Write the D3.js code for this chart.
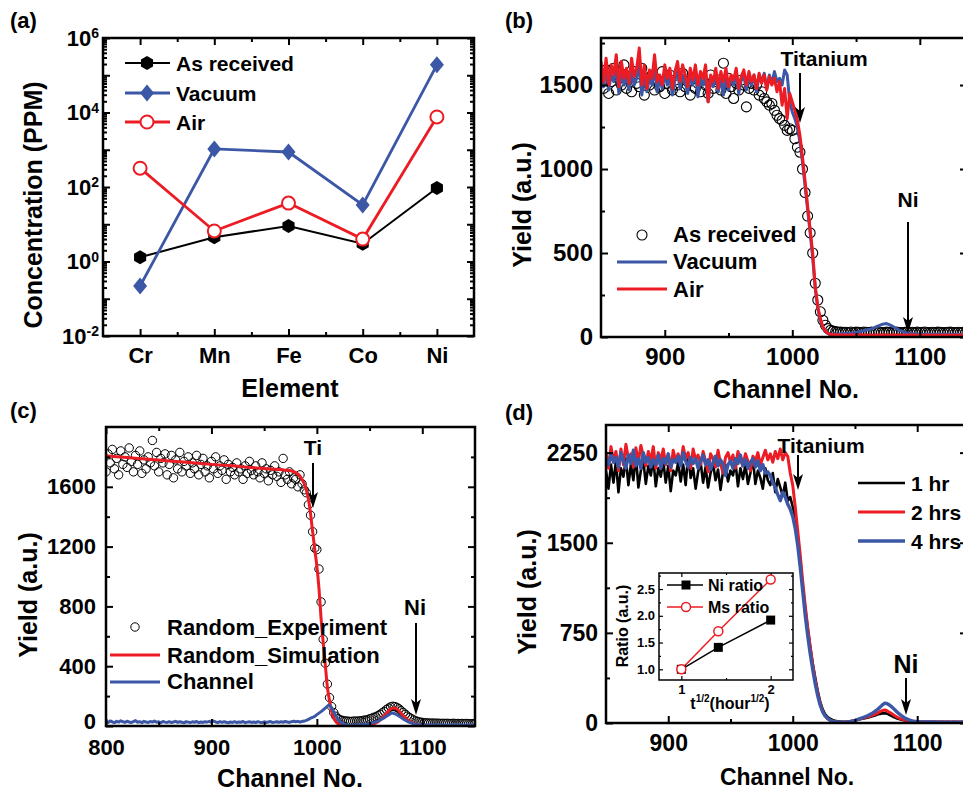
<!DOCTYPE html>
<html><head><meta charset="utf-8">
<script src="https://cdn.jsdelivr.net/npm/d3@7"></script>
<style>
body{margin:0;background:#fff;}
svg text{font-family:"Liberation Sans",Arial,Helvetica,sans-serif;font-weight:bold;fill:#000;}
</style></head><body>
<svg id="fig" width="963" height="792"></svg>
<script>
const FONT='"Liberation Sans",Arial,Helvetica,sans-serif';
const RED="#ec1c24", BLUE="#3b57a6", BLACK="#000";

// ---------- Panel (a) ----------
const elements=["Cr","Mn","Fe","Co","Ni"];
const aReceived=[1.3,4.5,9,3,94];
const aVacuum=[0.22,1050,870,33,190000];
const aAir=[320,6.6,37,4,7600];
const aYTickExp=[-2,0,2,4,6];

// ---------- Panel (b) : channels 850..1150 step 2 ----------
const bStart=850, bStep=2;
const bXTicks=[900,1000,1100], bYTicks=[0,500,1000,1500];
const bReceived=[1560,1480,1590,1450,1520,1600,1470,1540,1500,1620,
1480,1550,1460,1580,1510,1490,1600,1440,1540,1500,
1560,1470,1530,1490,1580,1450,1510,1560,1470,1530,
1500,1460,1570,1490,1520,1440,1540,1480,1510,1460,
1530,1500,1450,1560,1480,1520,1530,1470,1630,1450,
1540,1490,1420,1510,1470,1530,1500,1370,1480,1510,
1470,1500,1440,1460,1420,1400,1380,1390,1350,1320,
1300,1290,1260,1230,1240,
1230,1180,1130,1100,1000,860,720,620,500,320,220,150,100,70,50,40,35,32,30,29,28,
28,27,30,26,29,28,27,30,28,26,29,27,28,30,27,26,29,28,27,28,
30,27,26,28,29,27,28,26,29,27,28,30,27,26,28,27,29,28,26,27,
28,29,27,26,28,27,28,26,27,28,29,27,26,28,27];
const bVacuum=[1580,1490,1600,1470,1560,1520,1610,1450,1580,1500,
1560,1470,1600,1500,1540,1620,1440,1560,1460,1540,
1500,1600,1460,1530,1480,1560,1500,1540,1440,1530,
1580,1480,1560,1520,1450,1560,1500,1580,1430,1540,
1500,1560,1400,1530,1490,1560,1460,1540,1440,1560,
1470,1540,1500,1570,1450,1530,1560,1470,1550,1500,
1560,1460,1560,1520,1570,1480,1560,1510,1580,1520,
1540,1500,1590,1560,1400,
1340,1300,1250,1160,1040,900,760,620,470,290,170,100,55,32,22,18,17,17,18,19,20,
21,22,23,25,27,30,34,38,42,45,48,55,62,68,74,78,80,74,66,58,48,40,34,28,24,22,20,
19,18,18,17,17,18,17,16,17,16,17,16,16,17,16,15,16,16,15,16,15,16,15,15,16,15,15,15];
const bAir=[1640,1520,1660,1500,1620,1560,1680,1490,1640,1540,
1600,1510,1660,1550,1600,1720,1500,1620,1480,1590,
1540,1680,1520,1560,1500,1620,1540,1600,1480,1580,
1640,1520,1620,1560,1490,1600,1530,1620,1500,1580,
1540,1620,1400,1560,1520,1600,1480,1580,1520,1600,
1490,1560,1530,1600,1480,1550,1590,1500,1580,1520,
1560,1480,1570,1510,1560,1470,1550,1500,1540,1460,
1520,1380,1480,1300,1450,
1400,1350,1290,1200,1070,930,780,640,500,300,180,110,60,35,22,16,14,13,12,12,12,
12,11,13,12,10,12,13,11,12,10,11,12,10,12,11,13,12,10,11,12,
10,12,11,10,12,11,13,10,11,12,10,11,12,10,11,12,10,11,10,12,
11,10,12,11,10,11,12,10,11,10,12,11,10,11,10];

// ---------- Panel (c) : channels 800..1150 step 2 ----------
const cStart=800, cStep=2;
const cXTicks=[800,900,1000,1100], cYTicks=[0,400,800,1200,1600];
const cExperiment=[1700,1820,1760,1850,1720,1790,1680,1840,1750,1800,
1730,1860,1770,1700,1810,1750,1840,1690,1780,1720,
1800,1760,1910,1740,1830,1700,1790,1760,1820,1680,
1750,1810,1660,1780,1720,1830,1700,1770,1740,1800,
1690,1760,1720,1810,1680,1750,1790,1700,1740,1660,
1770,1720,1800,1690,1740,1710,1780,1650,1750,1700,
1730,1680,1760,1700,1720,1650,1740,1690,1770,1710,
1680,1740,1700,1660,1760,1690,1720,1640,1710,1680,
1740,1670,1700,1630,1790,1680,1650,1700,1620,1660,
1650,1600,1680,1620,1580,1560,1480,1410,1300,1190,
1180,1050,830,580,420,280,190,130,90,65,
50,42,38,35,33,32,30,32,33,32,34,
35,38,40,42,48,52,58,62,70,
78,88,98,110,120,128,132,130,124,115,
102,90,78,66,56,48,40,34,30,26,
24,22,21,20,19,20,18,19,18,17,
18,17,18,16,17,18,16,17,16,17,
16,17,16,15,16,16];
const cChannel=[30,24,34,27,22,31,26,35,28,24,
32,27,23,30,36,25,29,22,31,27,
24,30,26,33,25,28,22,30,26,24,
29,23,27,31,24,28,25,21,29,26,
23,28,25,30,22,27,24,29,26,31,
25,33,27,22,29,24,28,25,21,27,
24,29,23,27,25,30,22,26,28,24,
27,23,29,25,22,28,24,27,30,23,
26,29,24,28,25,30,27,24,29,32,
28,31,27,30,33,38,44,52,58,64,
76,86,96,108,120,132,140,122,95,68,
45,28,17,10,7,5,5,5,6,7,8,
9,10,12,14,17,20,24,28,33,
40,48,56,65,74,84,87,82,75,66,
56,46,38,30,24,19,15,12,10,9,
8,8,7,8,7,7,8,7,6,7,
7,6,7,7,6,7,6,6,7,6,
6,7,6,6,6,6];
const cSimChannels=[800,820,840,860,880,900,920,940,960,970,976,980,984,988,990,992,994,996,998,
1000,1002,1004,1006,1008,1010,1012,1014,1016,1018,1020,1024,1028,1032,1036,1040,1045,1050,1055,1060,
1064,1068,1071,1074,1077,1080,1084,1088,1092,1096,1100,1105,1110,1120,1130,1140,1150];
const cSimulation=[1807,1796,1785,1773,1762,1750,1740,1728,1717,1711,1706,1695,1672,1620,1580,1520,1420,1300,1180,
1070,920,720,560,410,260,170,100,55,30,15,6,3,2,2,2,4,8,18,40,
70,100,118,120,108,85,55,32,18,10,6,4,3,2,2,2,2];

// ---------- Panel (d) : channels 850..1150 step 2 ----------
const dStart=850, dStep=2;
const dXTicks=[900,1000,1100], dYTicks=[0,750,1500,2250];
const d1hr=[2100,1950,2150,2000,2180,1920,2120,2050,2200,1980,
2150,2020,2230,1960,2100,2180,1990,2140,2060,2200,
1970,2120,2050,2180,2000,2140,1930,2100,2060,2170,
2010,2150,1980,2240,2040,2120,1950,2090,2170,2000,
2130,1960,2080,2160,2020,2110,1940,2090,2150,2010,
2100,2060,2170,1970,2120,2030,2150,1990,2080,2200,
1990,2100,2040,1950,2120,2020,1980,2080,1920,2030,
1960,1890,2000,1850,1880,
1800,1720,1560,1350,1150,960,790,640,500,380,270,180,115,75,50,35,25,18,14,12,10,
10,12,15,18,22,27,32,36,40,
44,50,56,62,70,76,80,82,76,66,
56,46,38,31,25,20,16,14,12,11,
10,10,9,10,9,9,10,9,8,9,
9,8,9,8,8,9,8,8,9,8,
8,8,7,8,8,8];
const d2hrs=[2250,2120,2300,2180,2260,2100,2280,2150,2320,2200,
2240,2130,2290,2170,2310,2220,2140,2260,2180,2300,
2120,2250,2190,2280,2150,2230,2100,2270,2180,2240,
2160,2300,2200,2250,2120,2280,2190,2230,2150,2260,
2180,2090,2240,2200,2130,2270,2160,2080,2210,2250,
2170,2230,2120,2260,2190,2140,2240,2180,2100,2220,
2180,2250,2150,2210,2270,2190,2240,2170,2260,2200,
2280,2190,2250,2220,2080,
1980,1800,1600,1400,1180,980,800,640,490,360,250,160,100,60,35,22,14,10,8,7,7,
8,10,13,17,22,28,34,40,46,
50,56,64,72,82,94,104,108,100,88,
74,60,48,38,30,24,19,16,14,12,
11,10,10,9,10,9,9,10,9,9,
9,8,9,9,8,9,8,8,9,8,
8,8,8,7,8,8];
const d4hrs=[2200,2150,2240,2170,2210,2130,2250,2180,2120,2230,
2160,2270,2140,2200,2120,2250,2170,2210,2130,2190,
2150,2230,2120,2200,2160,2240,2130,2190,2170,2220,
2140,2250,2180,2130,2210,2160,2200,2120,2180,2230,
2150,2190,2110,2170,2220,2140,2190,2160,2060,2150,
2180,2120,2200,2160,2230,2140,2190,2120,2170,2200,
2130,2180,2100,2150,2080,2090,2060,2000,1960,1900,
1850,1920,1880,1820,1780,
1720,1620,1480,1300,1100,900,730,580,450,330,230,150,95,60,38,24,15,10,7,6,6,
7,9,12,16,21,28,36,44,52,
60,70,82,96,112,130,150,165,160,148,
130,110,90,72,56,42,32,24,18,14,
12,10,9,9,8,8,8,7,8,7,
7,7,7,6,7,6,7,6,6,7,
6,6,6,6,6,6];

// ---------- Inset ----------
const insetX=[1,1.414,2];
const niRatio=[1.0,1.41,1.92];
const msRatio=[1.0,1.71,2.68];
const insetXTicks=[1,2], insetYTicks=[1.0,1.5,2.0,2.5];

// =============== drawing ===============
const svg=d3.select("#fig");
const defs=svg.append("defs");

function panel(left,top,w,h,id){
  const g=svg.append("g").attr("transform",`translate(${left},${top})`);
  defs.append("clipPath").attr("id",id).append("rect").attr("width",w).attr("height",h);
  const plot=g.append("g").attr("clip-path",`url(#${id})`);
  return {g,plot};
}
function axes(g,x,y,w,h,o){
  const none=()=> "";
  const out={};
  const mk=(gen,tr,vals,len,fmt,pad,fs)=>{
    const a=g.append("g").attr("transform",tr)
      .call(gen.tickValues(vals).tickSizeInner(-len).tickSizeOuter(0).tickPadding(pad).tickFormat(fmt));
    a.select(".domain").remove();
    a.selectAll("line").attr("stroke","#000").attr("stroke-width",o.tw||2);
    a.selectAll("text").attr("font-size",fs).attr("font-family",FONT).attr("font-weight","bold").attr("fill","#000");
    return a;
  };
  out.bottom=mk(d3.axisBottom(x),`translate(0,${h})`,o.xMajor,o.maj,o.xFmt||none,o.xPad,o.fs);
  mk(d3.axisBottom(x),`translate(0,${h})`,o.xMinor,o.min,none,0,1);
  mk(d3.axisTop(x),`translate(0,0)`,o.xMajor,o.maj,none,0,1);
  mk(d3.axisTop(x),`translate(0,0)`,o.xMinor,o.min,none,0,1);
  out.left=mk(d3.axisLeft(y),`translate(0,0)`,o.yMajor,o.maj,o.yFmt||none,o.yPad,o.fs);
  mk(d3.axisLeft(y),`translate(0,0)`,o.yMinor,o.min,none,0,1);
  mk(d3.axisRight(y),`translate(${w},0)`,o.yMajor,o.maj,none,0,1);
  mk(d3.axisRight(y),`translate(${w},0)`,o.yMinor,o.min,none,0,1);
  g.append("rect").attr("width",w).attr("height",h).attr("fill","none").attr("stroke","#000").attr("stroke-width",o.fw||2.5);
  return out;
}
function txt(x,y,s,size,anchor){
  return svg.append("text").attr("x",x).attr("y",y).attr("font-size",size).attr("text-anchor",anchor||"start").text(s);
}
function vtxt(x,y,s,size){
  return svg.append("text").attr("transform",`translate(${x},${y}) rotate(-90)`).attr("font-size",size).attr("text-anchor","middle").text(s);
}
function arrow(x,y1,y2){
  svg.append("line").attr("x1",x).attr("x2",x).attr("y1",y1).attr("y2",y2-10).attr("stroke","#000").attr("stroke-width",2);
  svg.append("path").attr("d",`M${x},${y2} L${x-5},${y2-16} L${x},${y2-12} L${x+5},${y2-16} Z`).attr("fill","#000");
}
const series=(arr,start,step)=>arr.map((v,i)=>[start+i*step,v]);
function hexPath(cx,cy,r){
  const p=d3.range(6).map(k=>{const a=-Math.PI/2+k*Math.PI/3;return [cx+r*Math.cos(a),cy+r*Math.sin(a)];});
  return "M"+p.map(q=>q.join(",")).join("L")+"Z";
}
function diamondPath(cx,cy,rx,ry){return `M${cx},${cy-ry}L${cx+rx},${cy}L${cx},${cy+ry}L${cx-rx},${cy}Z`;}

// ---------- (a) ----------
{
  const W=371,H=298;
  const {g,plot}=panel(103,38,W,H,"clipA");
  const x=d3.scaleLinear().domain([0.5,5.5]).range([0,W]);
  const y=d3.scaleLog().domain([1e-2,1e6]).range([H,0]);
  const decades=d3.range(-2,7).map(e=>Math.pow(10,e));
  const minors=y.ticks().filter(t=>!decades.some(d=>Math.abs(d-t)/d<1e-6));
  axes(g,x,y,W,H,{xMajor:[1,2,3,4,5],xMinor:[1.5,2.5,3.5,4.5],yMajor:decades,yMinor:minors,
    maj:7,min:4,xFmt:(d)=>elements[d-1],xPad:11,yPad:0,fs:22});
  aYTickExp.forEach(e=>{
    const t=g.append("text").attr("x",-4).attr("y",y(Math.pow(10,e))).attr("dy","0.36em")
      .attr("text-anchor","end").attr("font-size",22);
    t.append("tspan").text("10");
    t.append("tspan").attr("dy","-0.55em").attr("font-size",14).text(e);
  });
  const line=d3.line().x((d,i)=>x(i+1)).y(d=>y(d));
  plot.append("path").datum(aReceived).attr("d",line).attr("fill","none").attr("stroke",BLACK).attr("stroke-width",2);
  plot.append("path").datum(aVacuum).attr("d",line).attr("fill","none").attr("stroke",BLUE).attr("stroke-width",2.8);
  plot.append("path").datum(aAir).attr("d",line).attr("fill","none").attr("stroke",RED).attr("stroke-width",2.8);
  aReceived.forEach((v,i)=>g.append("path").attr("d",hexPath(x(i+1),y(v),7)).attr("fill",BLACK));
  aVacuum.forEach((v,i)=>g.append("path").attr("d",diamondPath(x(i+1),y(v),7,8.5)).attr("fill",BLUE));
  aAir.forEach((v,i)=>g.append("circle").attr("cx",x(i+1)).attr("cy",y(v)).attr("r",6.5).attr("fill","#fff").attr("stroke",RED).attr("stroke-width",2));
  const L=[{c:BLACK,w:2,m:"hex",t:"As received",y:63},{c:BLUE,w:2.8,m:"dia",t:"Vacuum",y:93},{c:RED,w:2.8,m:"circ",t:"Air",y:122}];
  L.forEach(l=>{
    svg.append("line").attr("x1",125).attr("x2",170).attr("y1",l.y).attr("y2",l.y).attr("stroke",l.c).attr("stroke-width",l.w);
    if(l.m==="hex") svg.append("path").attr("d",hexPath(147,l.y,7)).attr("fill",BLACK);
    if(l.m==="dia") svg.append("path").attr("d",diamondPath(147,l.y,7,8.5)).attr("fill",BLUE);
    if(l.m==="circ") svg.append("circle").attr("cx",147).attr("cy",l.y).attr("r",6.5).attr("fill","#fff").attr("stroke",RED).attr("stroke-width",2);
    txt(176,l.y+8,l.t,21);
  });
  vtxt(42,205,"Concentration (PPM)",25);
  txt(290,397,"Element",25,"middle");
  txt(10,28,"(a)",22);
}

// ---------- (b) ----------
{
  const W=366,H=299;
  const {g,plot}=panel(601,38,W,H,"clipB");
  const x=d3.scaleLinear().domain([850,1137]).range([0,W]);
  const y=d3.scaleLinear().domain([0,1780]).range([H,0]);
  axes(g,x,y,W,H,{xMajor:bXTicks,xMinor:[950,1050],yMajor:bYTicks,yMinor:[250,750,1250,1750],
    maj:7,min:4,xFmt:d3.format("d"),yFmt:d3.format("d"),xPad:11,yPad:8,fs:24});
  const line=d3.line().x(d=>x(d[0])).y(d=>y(d[1]));
  plot.selectAll("circle.rec").data(series(bReceived,bStart,bStep)).join("circle")
    .attr("cx",d=>x(d[0])).attr("cy",d=>y(d[1])).attr("r",5).attr("fill","none").attr("stroke","#000").attr("stroke-width",1.1);
  plot.append("path").datum(series(bVacuum,bStart,bStep)).attr("d",line).attr("fill","none").attr("stroke",BLUE).attr("stroke-width",3).attr("stroke-linejoin","round");
  plot.append("path").datum(series(bAir,bStart,bStep)).attr("d",line).attr("fill","none").attr("stroke",RED).attr("stroke-width",3).attr("stroke-linejoin","round");
  svg.append("circle").attr("cx",642).attr("cy",235).attr("r",5).attr("fill","none").attr("stroke","#000").attr("stroke-width",1.1);
  txt(673,242,"As received",22);
  svg.append("line").attr("x1",617).attr("x2",667).attr("y1",262).attr("y2",262).attr("stroke",BLUE).attr("stroke-width",3);
  txt(673,269,"Vacuum",22);
  svg.append("line").attr("x1",617).attr("x2",667).attr("y1",289).attr("y2",289).attr("stroke",RED).attr("stroke-width",3);
  txt(673,297,"Air",22);
  txt(824,66,"Titanium",21,"middle");
  arrow(800,73,123);
  txt(908,207,"Ni",21,"middle");
  arrow(908,222,333);
  vtxt(531,205,"Yield (a.u.)",25);
  txt(786,398,"Channel No.",25,"middle");
  txt(505,28,"(b)",22);
}

// ---------- (c) ----------
{
  const W=369,H=299;
  const {g,plot}=panel(106,427,W,H,"clipC");
  const x=d3.scaleLinear().domain([800,1150]).range([0,W]);
  const y=d3.scaleLinear().domain([0,2000]).range([H,0]);
  const ax=axes(g,x,y,W,H,{xMajor:cXTicks,xMinor:[850,950,1050],yMajor:cYTicks,yMinor:[200,600,1000,1400,1800],
    maj:7,min:4,xFmt:d3.format("d"),yFmt:d3.format("d"),xPad:13,yPad:10,fs:22});
  // lift the "0" label slightly so it clears the "800" label
  ax.left.selectAll(".tick").filter(d=>d===0).select("text").attr("dy","0.1em");
  const line=d3.line().x(d=>x(d[0])).y(d=>y(d[1]));
  plot.selectAll("circle.exp").data(series(cExperiment,cStart,cStep)).join("circle")
    .attr("cx",d=>x(d[0])).attr("cy",d=>y(d[1])).attr("r",4.2).attr("fill","none").attr("stroke","#000").attr("stroke-width",1);
  plot.append("path").datum(cSimChannels.map((c,i)=>[c,cSimulation[i]])).attr("d",line.curve(d3.curveMonotoneX))
    .attr("fill","none").attr("stroke",RED).attr("stroke-width",3);
  const line2=d3.line().x(d=>x(d[0])).y(d=>y(d[1]));
  plot.append("path").datum(series(cChannel,cStart,cStep)).attr("d",line2).attr("fill","none").attr("stroke",BLUE).attr("stroke-width",3).attr("stroke-linejoin","round");
  svg.append("circle").attr("cx",135).attr("cy",627).attr("r",4.2).attr("fill","none").attr("stroke","#000").attr("stroke-width",1);
  txt(167,635,"Random_Experiment",22);
  svg.append("line").attr("x1",110).attr("x2",160).attr("y1",655).attr("y2",655).attr("stroke",RED).attr("stroke-width",3);
  txt(167,663,"Random_Simulation",22);
  svg.append("line").attr("x1",110).attr("x2",160).attr("y1",682).attr("y2",682).attr("stroke",BLUE).attr("stroke-width",3);
  txt(167,689,"Channel",22);
  txt(313,455,"Ti",21,"middle");
  arrow(313,463,508);
  txt(415,615,"Ni",22,"middle");
  arrow(416,623,715);
  vtxt(37,595,"Yield (a.u.)",25);
  txt(290,787,"Channel No.",25,"middle");
  txt(10,418,"(c)",22);
}

// ---------- (d) ----------
{
  const W=361,H=298;
  const {g,plot}=panel(606,425,W,H,"clipD");
  const x=d3.scaleLinear().domain([850,1140]).range([0,W]);
  const y=d3.scaleLinear().domain([0,2480]).range([H,0]);
  axes(g,x,y,W,H,{xMajor:dXTicks,xMinor:[950,1050],yMajor:dYTicks,yMinor:[375,1125,1875],
    maj:7,min:4,xFmt:d3.format("d"),yFmt:d3.format("d"),xPad:12,yPad:8,fs:23});
  const line=d3.line().x(d=>x(d[0])).y(d=>y(d[1]));
  plot.append("path").datum(series(d1hr,dStart,dStep)).attr("d",line).attr("fill","none").attr("stroke",BLACK).attr("stroke-width",2.6).attr("stroke-linejoin","round");
  plot.append("path").datum(series(d2hrs,dStart,dStep)).attr("d",line).attr("fill","none").attr("stroke",RED).attr("stroke-width",3).attr("stroke-linejoin","round");
  plot.append("path").datum(series(d4hrs,dStart,dStep)).attr("d",line).attr("fill","none").attr("stroke",BLUE).attr("stroke-width",3.4).attr("stroke-linejoin","round");
  [[BLACK,"1 hr",483,2.6],[RED,"2 hrs",512,3],[BLUE,"4 hrs",541,3.4]].forEach(l=>{
    svg.append("line").attr("x1",858).attr("x2",905).attr("y1",l[2]).attr("y2",l[2]).attr("stroke",l[0]).attr("stroke-width",l[3]);
    txt(911,l[2]+8,l[1],21);
  });
  txt(821,453,"Titanium",21,"middle");
  arrow(798,455,490);
  txt(906,673,"Ni",25,"middle");
  arrow(906,678,715);
  vtxt(536,592,"Yield (a.u.)",25);
  txt(787,785,"Channel No.",23,"middle");
  txt(505,420,"(d)",22);

  // inset
  const IW=134,IH=107;
  const ig=svg.append("g").attr("transform","translate(659,573)");
  ig.append("rect").attr("width",IW).attr("height",IH).attr("fill","#fff");
  const ix=d3.scaleLinear().domain([0.75,2.25]).range([0,IW]);
  const iy=d3.scaleLinear().domain([0.8,2.8]).range([IH,0]);
  axes(ig,ix,iy,IW,IH,{xMajor:insetXTicks,xMinor:[1.5],yMajor:insetYTicks,yMinor:[1.25,1.75,2.25,2.75],
    maj:4,min:2,tw:1.2,fw:1.5,xFmt:d3.format("d"),yFmt:d3.format(".1f"),xPad:5,yPad:4,fs:13});
  const il=d3.line().x((d,i)=>ix(insetX[i])).y(d=>iy(d));
  ig.append("path").datum(niRatio).attr("d",il).attr("fill","none").attr("stroke",BLACK).attr("stroke-width",1.5);
  ig.append("path").datum(msRatio).attr("d",il).attr("fill","none").attr("stroke",RED).attr("stroke-width",1.5);
  niRatio.forEach((v,i)=>ig.append("rect").attr("x",ix(insetX[i])-4.5).attr("y",iy(v)-4.5).attr("width",9).attr("height",9).attr("fill",BLACK));
  msRatio.forEach((v,i)=>ig.append("circle").attr("cx",ix(insetX[i])).attr("cy",iy(v)).attr("r",4.5).attr("fill","#fff").attr("stroke",RED).attr("stroke-width",1.5));
  svg.append("line").attr("x1",667).attr("x2",703).attr("y1",585).attr("y2",585).attr("stroke",BLACK).attr("stroke-width",1.5);
  svg.append("rect").attr("x",681.5).attr("y",580.5).attr("width",9).attr("height",9).attr("fill",BLACK);
  txt(708,591,"Ni ratio",16);
  svg.append("line").attr("x1",667).attr("x2",703).attr("y1",607).attr("y2",607).attr("stroke",RED).attr("stroke-width",1.5);
  svg.append("circle").attr("cx",686).attr("cy",607).attr("r",4.5).attr("fill","#fff").attr("stroke",RED).attr("stroke-width",1.5);
  txt(708,613,"Ms ratio",16);
  vtxt(628,626,"Ratio (a.u.)",16);
  const tl=svg.append("text").attr("x",730).attr("y",709).attr("text-anchor","middle").attr("font-size",16);
  tl.append("tspan").text("t");
  tl.append("tspan").attr("dy",-7).attr("font-size",10).text("1/2");
  tl.append("tspan").attr("dy",7).text("(hour");
  tl.append("tspan").attr("dy",-7).attr("font-size",10).text("1/2");
  tl.append("tspan").attr("dy",7).text(")");
}
</script></body></html>
